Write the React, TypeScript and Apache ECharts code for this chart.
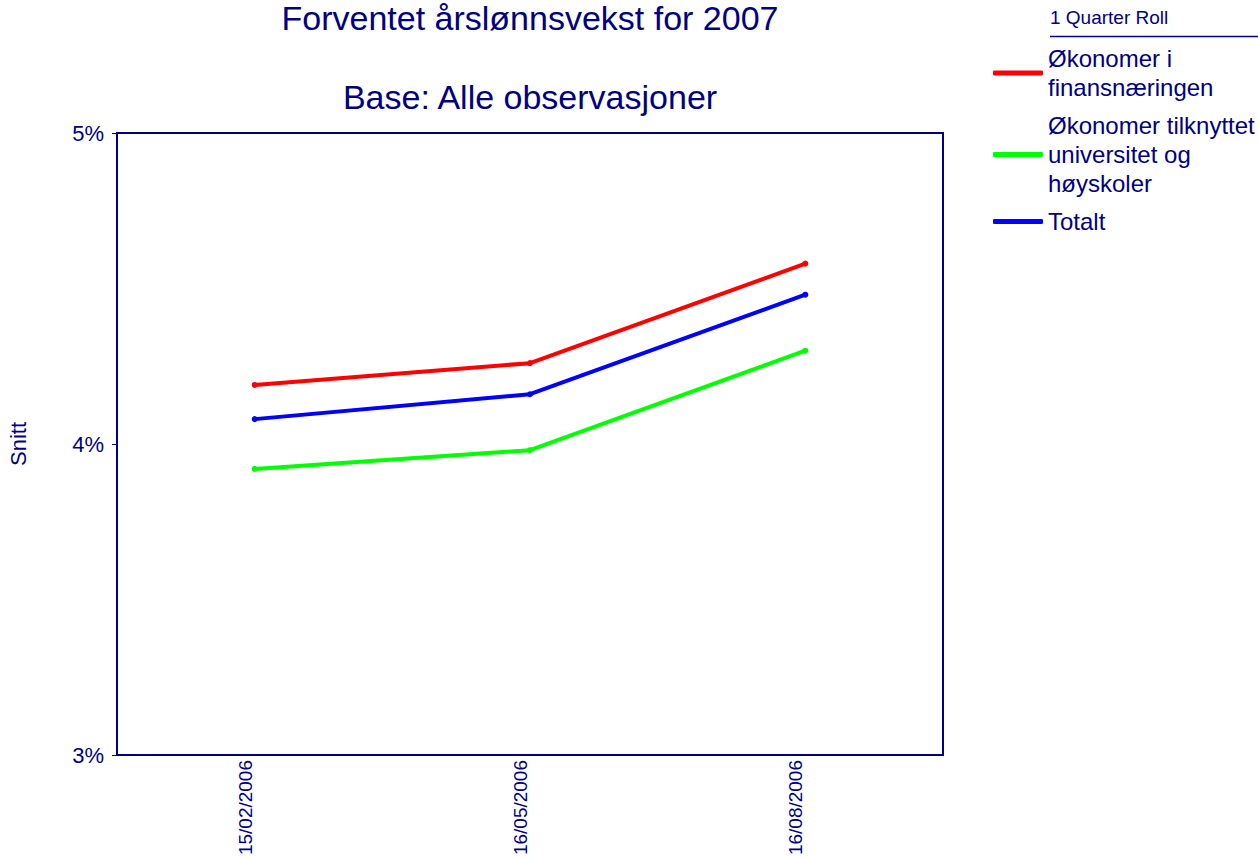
import React, { useEffect, useRef } from "react";
import * as echarts from "echarts";

const categories = ["15/02/2006", "16/05/2006", "16/08/2006"];
const seriesNames = [
  "Økonomer i finansnæringen",
  "Økonomer tilknyttet universitet og høyskoler",
  "Totalt",
];
const legendLabels = [
  "Økonomer i\nfinansnæringen",
  "Økonomer tilknyttet\nuniversitet og\nhøyskoler",
  "Totalt",
];
const finans = [4.19, 4.26, 4.58];
const universitet = [3.92, 3.98, 4.3];
const totalt = [4.08, 4.16, 4.48];
const seriesColors = ["#ff0000", "#00ff00", "#0000ff"];
const yTicks = { min: 3, max: 5, interval: 1 };

const NAVY = "#000080";
const FONT = "'Liberation Sans', Arial, sans-serif";

export default function App() {
  const ref = useRef<HTMLDivElement>(null);
  useEffect(() => {
    if (!ref.current) return;
    const chart = echarts.init(ref.current, null, { renderer: "svg" });
    const values = [finans, universitet, totalt];
    chart.setOption({
      animation: false,
      backgroundColor: "#ffffff",
      textStyle: { fontFamily: FONT, color: NAVY },
      title: [
        {
          text: "Forventet årslønnsvekst for 2007",
          left: 530,
          top: 1,
          padding: 0,
          textAlign: "center",
          textStyle: { fontFamily: FONT, fontSize: 34, fontWeight: "normal", color: NAVY },
        },
        {
          text: "Base: Alle observasjoner",
          left: 530,
          top: 80,
          padding: 0,
          textAlign: "center",
          textStyle: { fontFamily: FONT, fontSize: 34, fontWeight: "normal", color: NAVY },
        },
      ],
      legend: {
        orient: "vertical",
        left: 993,
        top: 44,
        padding: 0,
        itemGap: 9,
        itemWidth: 50,
        itemHeight: 5,
        icon: "roundRect",
        data: seriesNames,
        formatter: (name: string) => legendLabels[seriesNames.indexOf(name)],
        textStyle: { fontFamily: FONT, fontSize: 24, lineHeight: 29, color: NAVY },
      },
      graphic: [
        {
          type: "text",
          left: 1050,
          top: 8,
          style: { text: "1 Quarter Roll", font: `19px ${FONT}`, fill: NAVY },
        },
        {
          type: "line",
          shape: { x1: 1050, y1: 36.5, x2: 1258, y2: 36.5 },
          style: { stroke: NAVY, lineWidth: 1.5 },
        },
      ],
      grid: {
        left: 117,
        right: 315,
        top: 133,
        bottom: 103,
        outerBoundsMode: "none",
        containLabel: false,
        show: true,
        borderColor: NAVY,
        borderWidth: 2,
        backgroundColor: "#ffffff",
      },
      xAxis: {
        type: "category",
        data: categories,
        boundaryGap: true,
        axisLine: {
          lineStyle: { color: NAVY, width: 2, shadowColor: "#888888", shadowOffsetY: 2, shadowBlur: 1 },
        },
        axisTick: { alignWithLabel: true, length: 5, lineStyle: { color: NAVY, width: 1 } },
        axisLabel: {
          rotate: 90,
          fontSize: 19,
          fontFamily: FONT,
          color: NAVY,
          margin: 5,
          verticalAlign: "bottom",
        },
        splitLine: { show: false },
      },
      yAxis: {
        type: "value",
        min: yTicks.min,
        max: yTicks.max,
        interval: yTicks.interval,
        name: "Snitt",
        nameLocation: "middle",
        nameRotate: 90,
        nameGap: 88,
        nameTextStyle: { fontSize: 22, fontFamily: FONT, color: NAVY },
        axisLine: { show: true, lineStyle: { color: NAVY, width: 2 } },
        axisTick: { show: true, length: 5, lineStyle: { color: NAVY, width: 1 } },
        axisLabel: {
          formatter: (v: number) => `${v}%`,
          fontSize: 22,
          fontFamily: FONT,
          color: NAVY,
          margin: 13,
        },
        splitLine: { show: false },
      },
      series: seriesNames.map((name, i) => ({
        name,
        type: "line",
        data: values[i],
        color: seriesColors[i],
        symbol: "circle",
        symbolSize: 6,
        lineStyle: { width: 4, color: seriesColors[i] },
        itemStyle: { color: seriesColors[i] },
      })),
    });
    return () => chart.dispose();
  }, []);
  return <div ref={ref} style={{ width: 1258, height: 858, position: "absolute", left: 0, top: 0 }} />;
}
